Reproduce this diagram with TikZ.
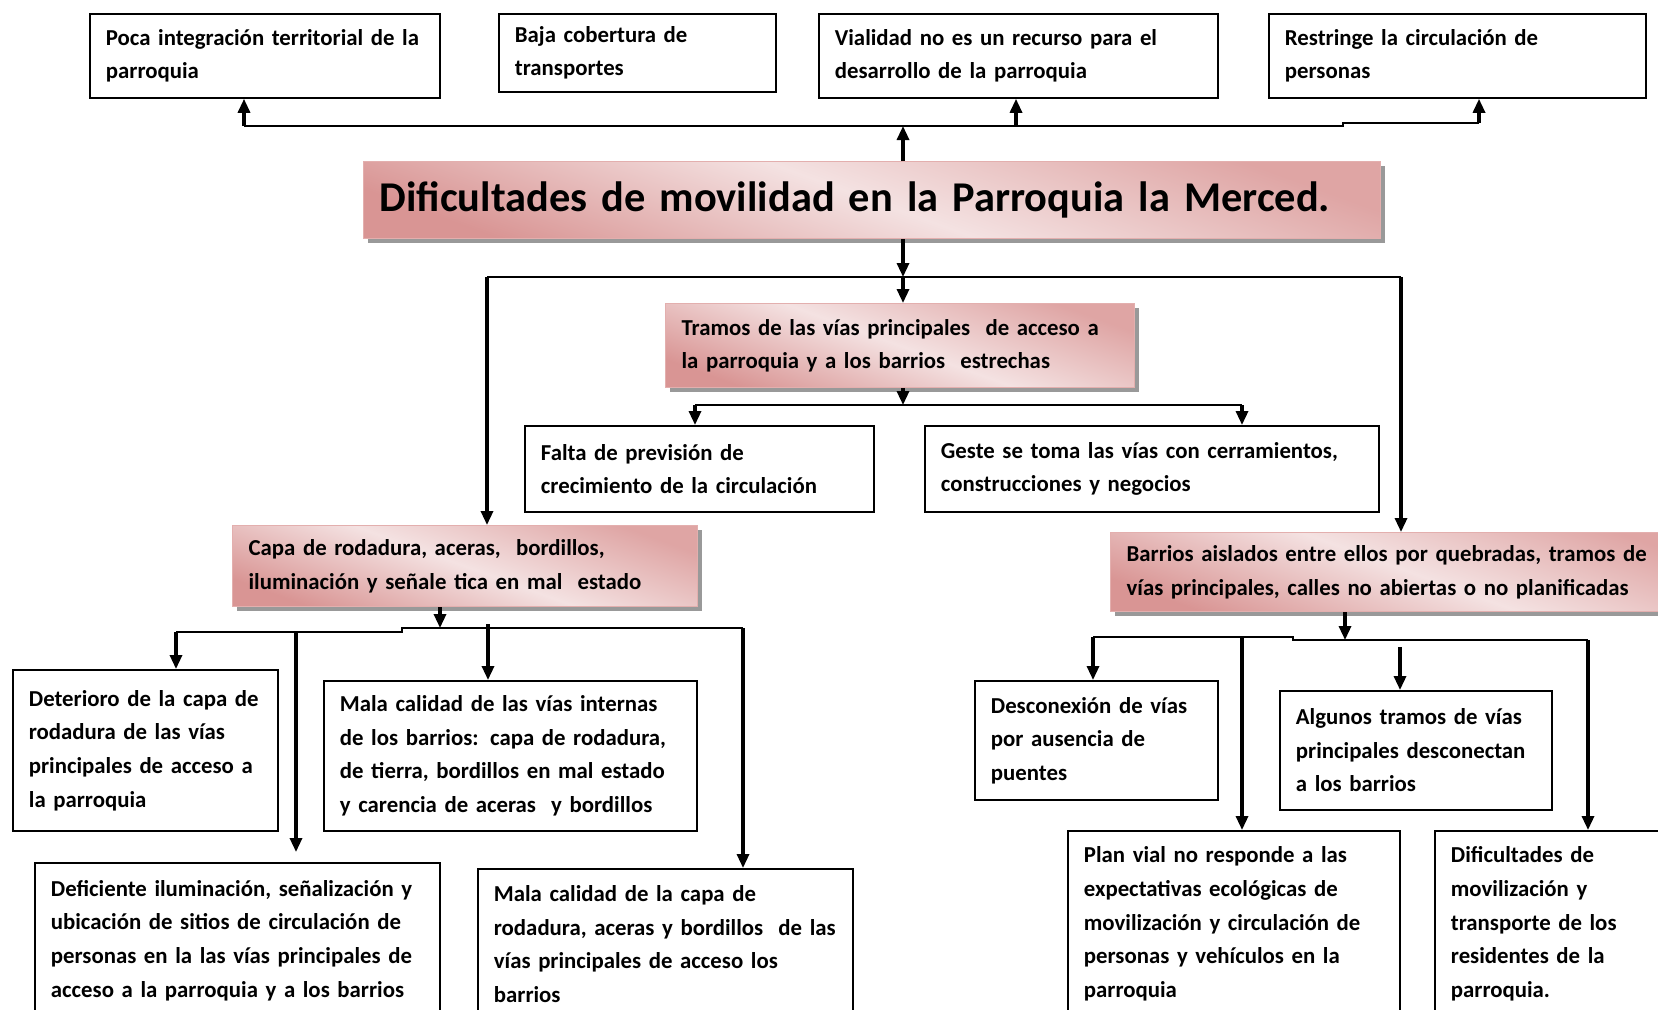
\documentclass[tikz,border=0pt]{standalone}
\usepackage{fontspec}
\setmainfont{Carlito}[WordSpace=0.7]
\usetikzlibrary{arrows.meta,shadows}
\definecolor{rosaosc}{HTML}{D99594}
\definecolor{rosaclaro}{HTML}{F4E2E2}
\definecolor{rosaborde}{HTML}{E3AFAE}
\tikzset{
  caja/.style={draw=black, line width=0.9pt, anchor=north west, align=left,
    inner xsep=8pt, inner ysep=3pt, font=\fontsize{11.4}{16.8}\selectfont\bfseries},
  blanca/.style={caja, fill=white},
  rosa/.style={caja, draw=rosaborde, line width=0.6pt,
    top color=rosaosc!85!white, bottom color=rosaosc, middle color=rosaclaro,
    shading angle=-20,
    drop shadow={shadow xshift=2pt, shadow yshift=-2pt, fill=black!50, opacity=0.8}},
  tam/.style 2 args={minimum width={#1*0.5pt}, minimum height={#2*0.5pt},
    text width={#1*0.5pt-16pt}},
  flecha/.style={-{Triangle[length=7pt,width=6pt]}, line width=1.6pt},
  bus/.style={line width=1.2pt},
}
\begin{document}
\begin{tikzpicture}[x=0.5pt, y=-0.5pt]
\useasboundingbox (0,0) rectangle (1658,1009);
\clip (0,0) rectangle (1658,1009);

\node[blanca, tam={350}{84}] (efe1) at (89,13) {Poca integración territorial de la\\ parroquia};
\node[blanca, tam={277}{78}] (efe2) at (498,13) {Baja cobertura de\\ transportes};
\node[blanca, tam={399}{84}] (efe3) at (818,13) {Vialidad no es un recurso para el\\ desarrollo de la parroquia};
\node[blanca, tam={377}{84}] (efe4) at (1268,13) {Restringe la circulación de\\ personas};

\node[rosa, tam={1017}{77}, font=\fontsize{21.2}{25}\selectfont\bfseries] (titulo) at (363,161)
  {Dificultades de movilidad en la Parroquia la Merced.};

\node[rosa, tam={469}{84}] (tramos) at (665,303) {Tramos de las vías principales\ \ de acceso a\\ la parroquia y a los barrios\ \ estrechas};
\node[blanca, tam={349}{86}] (falta) at (524,425) {Falta de previsión de\\ crecimiento de la circulación};
\node[blanca, tam={454}{86}] (geste) at (924,425) {Geste se toma las vías con cerramientos,\\ construcciones y negocios};

\node[rosa, tam={465}{81}] (capa) at (232,525) {Capa de rodadura, aceras,\ \ bordillos,\\ iluminación y señale tica en mal\ \ estado};
\node[rosa, tam={600}{79}] (barrios) at (1110,532) {Barrios aislados entre ellos por quebradas, tramos de\\ vías principales, calles no abiertas o no planificadas};

\node[blanca, tam={265}{161}] (deterioro) at (12,669) {Deterioro de la capa de\\ rodadura de las vías\\ principales de acceso a\\ la parroquia};
\node[blanca, tam={373}{150}] (mala1) at (323,680) {Mala calidad de las vías internas\\ de los barrios: capa de rodadura,\\ de tierra, bordillos en mal estado\\ y carencia de aceras\ \ y bordillos};
\node[blanca, tam={405}{155}] (deficiente) at (34,862) {Deficiente iluminación, señalización y\\ ubicación de sitios de circulación de\\ personas en la las vías principales de\\ acceso a la parroquia y a los barrios};
\node[blanca, tam={375}{150}] (mala2) at (477,868) {Mala calidad de la capa de\\ rodadura, aceras y bordillos\ \ de las\\ vías principales de acceso los\\ barrios};

\node[blanca, tam={243}{119}] (desconexion) at (974,680) {Desconexión de vías\\ por ausencia de\\ puentes};
\node[blanca, tam={272}{119}] (algunos) at (1279,690) {Algunos tramos de vías\\ principales desconectan\\ a los barrios};
\node[blanca, tam={332}{186}] (plan) at (1067,830) {Plan vial no responde a las\\ expectativas ecológicas de\\ movilización y circulación de\\ personas y vehículos en la\\ parroquia};
\node[blanca, tam={260}{186}] (dificultades) at (1434,830) {Dificultades de\\ movilización y\\ transporte de los\\ residentes de la\\ parroquia.};

% efectos
\coordinate (x903) at (903,0);
\coordinate (e1) at (244,126);
\coordinate (e2) at (1016,126);
\coordinate (ej) at (1343,126);
\coordinate (ek) at (1343,123);
\coordinate (e4) at (1479,123);
\draw[bus] (e1) -- (ej) -- (ek) -- (e4);
\draw[flecha] (x903 |- titulo.north) -- (x903 |- e1);
\draw[flecha] (e1) -- (e1 |- efe1.south);
\draw[flecha] (e2) -- (e2 |- efe3.south);
\draw[flecha] (e4) -- (e4 |- efe4.south);

% causas
\coordinate (r0) at (903,277);
\coordinate (r1) at (487,277);
\coordinate (r2) at (1401,277);
\draw[bus] (r1) -- (r2);
\draw[flecha] (x903 |- titulo.south) -- (r0);
\draw[flecha] (r0) -- (r0 |- tramos.north);
\draw[flecha] (r1) -- (r1 |- capa.north);
\draw[flecha] (r2) -- (r2 |- barrios.north);

\coordinate (s0) at (903,405);
\coordinate (s1) at (695,405);
\coordinate (s2) at (1242,405);
\draw[bus] (s1) -- (s2);
\draw[flecha] (s0 |- tramos.south) -- (s0);
\draw[flecha] (s1) -- (s1 |- falta.north);
\draw[flecha] (s2) -- (s2 |- geste.north);

\coordinate (c0) at (440,628);
\coordinate (c1) at (176,632);
\coordinate (c2) at (296,632);
\coordinate (cj) at (402,632);
\coordinate (ck) at (402,628);
\coordinate (c3) at (488,628);
\coordinate (c4) at (743,628);
\draw[bus] (c1) -- (cj) -- (ck) -- (c4);
\draw[flecha] (c0 |- capa.south) -- (c0);
\draw[flecha] (c1) -- (c1 |- deterioro.north);
\draw[flecha] (c2) -- ([yshift=5pt]c2 |- deficiente.north);
\draw[flecha] ([yshift=2pt]c3) -- (c3 |- mala1.north);
\draw[flecha] (c4) -- (c4 |- mala2.north);

\coordinate (b0) at (1345,640);
\coordinate (b1) at (1093,637);
\coordinate (bj) at (1293,637);
\coordinate (bk) at (1293,640);
\coordinate (b2) at (1242,637);
\coordinate (b3) at (1400,647);
\coordinate (b4) at (1588,640);
\draw[bus] (b1) -- (bj) -- (bk) -- (b4);
\draw[flecha] (b0 |- barrios.south) -- (b0);
\draw[flecha] (b1) -- (b1 |- desconexion.north);
\draw[flecha] (b2) -- (b2 |- plan.north);
\draw[flecha] (b3) -- (b3 |- algunos.north);
\draw[flecha] (b4) -- (b4 |- dificultades.north);
\end{tikzpicture}
\end{document}
